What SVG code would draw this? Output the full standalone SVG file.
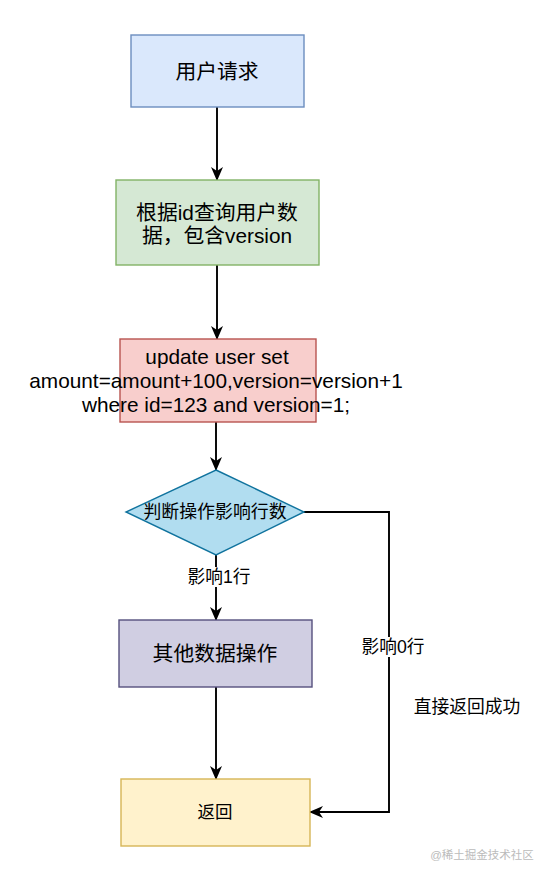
<svg xmlns="http://www.w3.org/2000/svg" width="552" height="880" viewBox="0 0 552 880">
<defs>
<marker id="arr" viewBox="0 0 14 12" refX="13" refY="6" markerWidth="14" markerHeight="12" markerUnits="userSpaceOnUse" orient="auto">
<path d="M0,0 L14,6 L0,12 L4,6 z" fill="#000"/>
</marker>
<style>
.t{font-family:"Liberation Sans","Noto Sans CJK SC",sans-serif;fill:#000;text-anchor:middle}
.n{stroke-width:1.4}
.c{fill:none;stroke:#000;stroke-width:1.9}
</style>
</defs>
<rect width="552" height="880" fill="#fff"/>
<g id="connectors">
<path class="c" d="M217,107 L217,180" marker-end="url(#arr)"/>
<path class="c" d="M217,265 L217,339" marker-end="url(#arr)"/>
<path class="c" d="M216,422 L216,470" marker-end="url(#arr)"/>
<path class="c" d="M216,555 L216,620" marker-end="url(#arr)"/>
<path class="c" d="M216,687 L216,779" marker-end="url(#arr)"/>
<path class="c" d="M304,512 L389,512 L389,812 L310,812" marker-end="url(#arr)"/>
<rect x="186" y="567" width="67" height="20" fill="#fff"/>
<text class="t" x="219" y="583" font-size="17.7">影响1行</text>
<rect x="360" y="637" width="67" height="20" fill="#fff"/>
<text class="t" x="393" y="653" font-size="17.7">影响0行</text>
</g>
<g id="n1">
<rect class="n" x="131" y="35" width="173" height="72" fill="#dae8fc" stroke="#6c8ebf"/>
<text class="t" x="217" y="79" font-size="20.8">用户请求</text>
</g>
<g id="n2">
<rect class="n" x="116" y="180" width="203" height="85" fill="#d5e8d4" stroke="#82b366"/>
<text class="t" x="217" y="220" font-size="20.8">根据id查询用户数</text>
<text class="t" x="217" y="243" font-size="20.8">据，包含version</text>
</g>
<g id="n3">
<rect class="n" x="120" y="339" width="196" height="83" fill="#f8cecc" stroke="#b85450"/>
<text class="t" x="217" y="364" font-size="20.8">update user set</text>
<text class="t" x="216" y="388" font-size="20.8">amount=amount+100,version=version+1</text>
<text class="t" x="216" y="412" font-size="20.8">where id=123 and version=1;</text>
</g>
<g id="n4">
<polygon class="n" points="216,470 304,512 216,555 126,512" fill="#b1ddf0" stroke="#10739e"/>
<text class="t" x="215" y="518" font-size="17.9">判断操作影响行数</text>
</g>
<g id="n5">
<rect class="n" x="119" y="620" width="193" height="67" fill="#d0cee2" stroke="#56517e"/>
<text class="t" x="215" y="661" font-size="20.8">其他数据操作</text>
</g>
<g id="n6">
<rect class="n" x="121" y="779" width="189" height="67" fill="#fff2cc" stroke="#d6b656"/>
<text class="t" x="215" y="818" font-size="17.5">返回</text>
</g>
<g id="note">
<text class="t" x="467" y="713" font-size="17.8">直接返回成功</text>
</g>
<text class="t" x="482" y="859" font-size="11.5" style="fill:#bbbbbb">@稀土掘金技术社区</text>
</svg>
